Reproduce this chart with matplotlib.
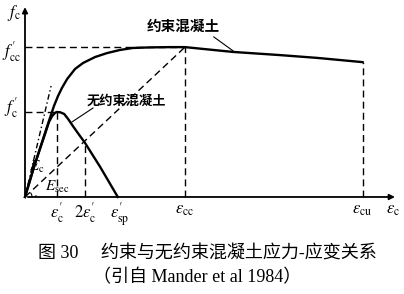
import matplotlib
matplotlib.use("Agg")
import matplotlib.pyplot as plt
from matplotlib.patches import Arc

plt.rcParams["mathtext.fontset"] = "stix"
CJK = ["Noto Sans CJK SC", "DejaVu Sans"]
SERIF = ["Liberation Serif", "Noto Sans CJK SC"]

# ── data (strain in ‰, stress in MPa) ──────────────────────────────────
eps_unconf = [0, 0.6, 1.25, 1.5, 1.7, 1.9, 2.0, 2.2, 2.45, 2.7, 2.95, 3.3, 3.75, 4.7, 5.8]
sig_unconf = [0, 11.3, 22.2, 26.5, 28.6, 29.8, 30.0, 29.9, 29.3, 27.5, 25.4, 22.6, 19.1, 10.6, 0]

eps_conf = [0, 0.6, 1.25, 1.56, 1.81, 2.06, 2.31, 2.63, 3.13, 3.63, 4.38, 5.13,
            5.94, 6.75, 7.81, 9.06, 10.0, 13.0, 15.9, 18.25, 21.1]
sig_conf = [0, 11.3, 22.6, 27.9, 32.1, 35.6, 38.5, 41.6, 45.2, 47.3, 49.4, 50.8,
            51.9, 52.6, 52.8, 52.9, 52.9, 51.2, 50.1, 49.1, 47.6]

eps_c, eps_2c, eps_sp, eps_cc, eps_cu = 2.0, 3.75, 5.8, 10.0, 21.1
fc, fcc, f_2c, f_cu = 30.0, 52.9, 19.1, 47.6
ec_tangent = (1.63, 39.2)   # end of the Ec tangent line

fig = plt.figure(figsize=(4.04, 2.94), dpi=100)
ax = fig.add_axes([0, 0, 1, 1])
ax.set_xlim(-1.5625, 23.69)
ax.set_ylim(-34.24, 69.53)
ax.axis("off")

# axes with arrows
ax.annotate("", xy=(23.3, 0), xytext=(0, 0),
            arrowprops=dict(arrowstyle="-|>", lw=1.3, color="k", mutation_scale=8))
ax.annotate("", xy=(0, 68.0), xytext=(0, 0),
            arrowprops=dict(arrowstyle="-|>", lw=1.3, color="k", mutation_scale=8))

# curves
ax.plot(eps_conf, sig_conf, color="k", lw=1.7)
ax.plot(eps_unconf, sig_unconf, color="k", lw=1.7)

dash = dict(color="k", lw=1.0, ls=(0, (5, 3)))
ax.plot([0, eps_cc], [0, fcc], **dash)
ax.plot([0, ec_tangent[0]], [0, ec_tangent[1]], color="k", lw=1.0, ls=(0, (4, 2, 1, 2)))
ax.plot([0, eps_cc], [fcc, fcc], **dash)
ax.plot([0, eps_c], [fc, fc], **dash)
ax.plot([eps_c, eps_c], [0, fc], **dash)
ax.plot([eps_2c, eps_2c], [0, f_2c], **dash)
ax.plot([eps_cc, eps_cc], [0, fcc], **dash)
ax.plot([eps_cu, eps_cu], [0, f_cu], **dash)

# angle arcs at origin (radius in pixels -> data units)
for r, t2 in [(7, 77), (11, 43)]:
    ax.add_patch(Arc((0, 0), 2 * r / 16, 2 * r / 2.833, theta1=0, theta2=t2, lw=0.8, color="k"))

# leader lines
ax.plot([11.8, 13.0], [56.5, 51.6], color="k", lw=0.8)
ax.plot([4.25, 2.94], [31.4, 26.5], color="k", lw=0.8)

# labels
ax.text(7.6, 60.5, "约束混凝土", family=CJK, fontsize=10.5, fontweight="bold",
        ha="left", va="center")
ax.text(3.85, 34.0, "无约束混凝土", family=CJK, fontsize=9.5, fontweight="bold",
        ha="left", va="center")

ytick = dict(fontsize=12, ha="left", va="center")
ax.text(-1.1, 64.8, r"$f_{\rm c}$", **ytick)
ax.text(-1.45, fcc - 1.5, r"$f_{\rm cc}^{\prime}$", **ytick)
ax.text(-1.3, fc + 1.5, r"$f_{\rm c}^{\prime}$", **ytick)

xtick = dict(fontsize=12, ha="center", va="top")
ax.text(eps_c, -1.0, r"$\varepsilon_{\rm c}^{\prime}$", **xtick)
ax.text(eps_2c, -1.0, r"$2\varepsilon_{\rm c}^{\prime}$", **xtick)
ax.text(eps_sp + 0.1, -1.0, r"$\varepsilon_{\rm sp}^{\prime}$", **xtick)
ax.text(eps_cc, -1.0, r"$\varepsilon_{\rm cc}$", **xtick)
ax.text(eps_cu, -1.0, r"$\varepsilon_{\rm cu}$", **xtick)
ax.text(23.0, -1.0, r"$\varepsilon_{\rm c}$", **xtick)

ax.text(0.75, 10.5, r"$E_{\rm c}$", fontsize=11, ha="center", va="center")
ax.text(2.0, 3.6, r"$E_{\rm sec}$", fontsize=11, ha="center", va="center")

# caption
fig.text(207 / 404, 1 - 254 / 294, "图 30　 约束与无约束混凝土应力-应变关系",
         family=SERIF, fontsize=13, ha="center", va="center")
fig.text(197 / 404, 1 - 278 / 294, "（引自 Mander et al 1984）",
         family=SERIF, fontsize=13, ha="center", va="center")

fig.savefig("out.png", dpi=100, facecolor="white")
